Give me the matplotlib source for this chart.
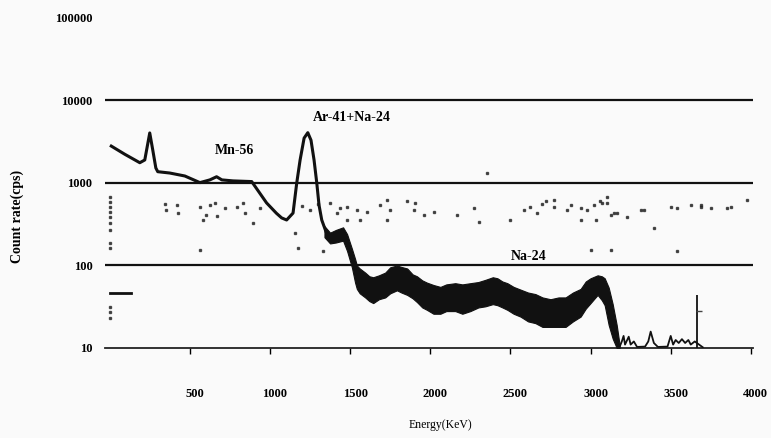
import numpy as np
import matplotlib
matplotlib.use("Agg")
import matplotlib.pyplot as plt
import matplotlib.transforms as mtransforms

plt.rcParams['font.family'] = ['Liberation Serif', 'DejaVu Serif']

# spectrum, smooth part (energy in keV, counts per second)
line_e = [10, 94, 188, 219, 250, 269, 288, 300, 375, 469, 563, 625, 667, 700, 769, 886,
          979, 1040, 1073, 1104, 1144, 1167, 1188, 1213, 1236, 1256, 1275, 1292, 1306,
          1323, 1350, 1375]
line_c = [2800, 2230, 1760, 1900, 4040, 2500, 1520, 1370, 1320, 1215, 1010, 1090, 1190,
          1090, 1060, 1040, 573, 430, 377, 356, 432, 1000, 1900, 3500, 4070, 3300, 1900,
          1000, 540, 356, 255, 215]

# noisy part of the spectrum, lower / upper edge of the band
band_e = [1340, 1375, 1412, 1456, 1481, 1511, 1531, 1542, 1560, 1594, 1620, 1644, 1680,
          1719, 1750, 1792, 1820, 1856, 1890, 1917, 1950, 1979, 2020, 2063, 2100, 2156,
          2200, 2250, 2300, 2344, 2390, 2419, 2450, 2481, 2520, 2563, 2610, 2656, 2700,
          2750, 2800, 2844, 2890, 2938, 2970, 3000, 3044, 3070, 3088, 3113, 3138, 3163,
          3181]
band_lo = [220, 185, 190, 200, 150, 95, 62, 52, 46, 41, 37, 35, 39, 41, 46, 50, 47, 44,
           40, 36, 31, 29, 26, 26, 28, 28, 26, 28, 31, 32, 34, 33, 31, 29, 26, 24, 21, 20,
           18, 18, 18, 18, 21, 24, 30, 35, 44, 38, 33, 19, 13, 10, 10]
band_hi = [300, 250, 270, 290, 240, 160, 120, 100, 92, 82, 74, 72, 76, 82, 95, 100, 96,
           92, 78, 74, 66, 62, 58, 55, 59, 61, 59, 61, 63, 67, 72, 70, 64, 61, 55, 51, 47,
           45, 41, 39, 41, 41, 47, 52, 64, 70, 76, 74, 70, 54, 34, 19, 11]

# small peaks above the 3.2 MeV edge
tail_e = [3181, 3195, 3206, 3215, 3238, 3250, 3270, 3290, 3340, 3360, 3375, 3395, 3420,
          3480, 3500, 3515, 3531, 3550, 3570, 3590, 3610, 3625, 3650, 3700]
tail_c = [10.3, 12, 14, 11, 13.7, 11, 12, 10.3, 10.4, 12, 15.8, 11.5, 10.3, 10.4, 14, 11,
          12.5, 11.5, 12.8, 11.5, 12.5, 11, 12, 10.2]
spike_e = 3667
spike_c = 44
spike_mark = 27.7

# short flat segment at the low end
low_e = [0, 136]
low_c = [47, 47]

# background spectrum points
bg_e = [5, 5, 5, 5, 5, 5, 5, 5, 5, 5, 5, 5,
        344, 417, 354, 425, 563, 625, 656, 604, 667, 583, 719, 792, 844, 831, 938, 563,
        894, 1156, 1375, 1438, 1479, 1542, 1604, 1688, 1750, 1896, 1958, 1906, 1479, 1563,
        1729, 1177, 1333, 2021, 2167, 2271, 2302, 2500, 2583, 2667, 2771, 2854, 2938,
        2979, 3021, 3073, 3125, 3167, 2938, 3031, 3000, 3125, 3104, 3146, 3229, 3333,
        3396, 3542, 3625, 3688, 3750, 3854, 3979, 3542, 1729, 1854, 2625, 2771, 3104,
        3313, 3500, 3688, 3875, 2354, 1200, 1250, 1300, 1420, 2700, 2720, 2880, 3060]
bg_c = [677, 590, 510, 445, 385, 330, 270, 187, 162, 31, 27, 23,
        556, 540, 470, 430, 516, 540, 570, 410, 400, 355, 495, 516, 430, 570, 495, 153,
        330, 250, 570, 495, 516, 470, 450, 540, 470, 470, 410, 570, 355, 355,
        355, 162, 148, 450, 410, 495, 340, 355, 470, 430, 516, 470, 495,
        470, 540, 570, 410, 430, 355, 355, 153, 153, 570, 430, 390, 470,
        285, 495, 540, 540, 495, 495, 620, 148, 620, 600, 516, 620, 680,
        470, 516, 516, 516, 1310, 520, 470, 560, 430, 560, 600, 540, 610]

y_ticks = [10, 100, 1000, 10000, 100000]
grid_levels = [100, 1000, 10000]
x_ticks = [500, 1000, 1500, 2000, 2500, 3000, 3500, 4000]

fig = plt.figure(figsize=(7.71, 4.38), dpi=100, facecolor='#fafafa')
ax = fig.add_axes([0.136, 0.2055, 0.841, 0.7535])
ax.set_facecolor('#fafafa')
ax.set_yscale('log')
ax.set_xlim(-30, 4015)
ax.set_ylim(10, 100000)

for lvl in grid_levels:
    ax.axhline(lvl, color='#111111', lw=1.6, zorder=1)

ax.plot(bg_e, bg_c, ls='none', marker='s', ms=1.8, color='#222222', alpha=0.75, zorder=2)
ax.plot(low_e, low_c, color='#111111', lw=2, zorder=3)
ax.plot(line_e, line_c, color='#111111', lw=2.2, zorder=4)
ax.fill_between(band_e, band_lo, band_hi, color='#111111', lw=0.8, edgecolor='#111111',
                zorder=4)
ax.plot(tail_e, tail_c, color='#111111', lw=1.3, zorder=4)
ax.vlines(spike_e, 10, spike_c, color='#111111', lw=1.3, zorder=4)
ax.plot([spike_e + 12], [spike_mark], marker='_', ms=5, color='#444444', zorder=4)

ax.text(781, 2500, 'Mn-56', fontsize=10, fontweight='bold', ha='center', va='center')
ax.text(1512, 6300, 'Ar-41+Na-24', fontsize=10, fontweight='bold', ha='center',
        va='center')
ax.text(2612, 127, 'Na-24', fontsize=10, fontweight='bold', ha='center', va='center')

for side in ['top', 'right', 'left']:
    ax.spines[side].set_visible(False)
ax.spines['bottom'].set_color('#222222')
ax.spines['bottom'].set_linewidth(1.3)

ax.set_yticks(y_ticks)
ax.set_yticklabels([str(v) for v in y_ticks])
ax.yaxis.set_minor_locator(matplotlib.ticker.NullLocator())
ax.tick_params(axis='y', length=0, pad=9, labelsize=9)
ax.set_xticks(x_ticks)
ax.set_xticklabels([str(v) for v in x_ticks])
ax.tick_params(axis='x', direction='out', length=4, width=1, pad=25, labelsize=9)
shift = mtransforms.ScaledTranslation(5 / 100, 0, fig.dpi_scale_trans)
for lab in ax.get_xticklabels():
    lab.set_transform(lab.get_transform() + shift)
for lab in ax.get_xticklabels() + ax.get_yticklabels():
    lab.set_fontweight('bold')

ax.set_xlabel('Energy(KeV)', fontsize=8.5)
ax.xaxis.set_label_coords(0.517, -0.215)
ax.set_ylabel('Count rate(cps)', fontsize=10, fontweight='bold')
ax.yaxis.set_label_coords(-0.125, 0.40)

fig.savefig('out.png', dpi=100, facecolor=fig.get_facecolor())
